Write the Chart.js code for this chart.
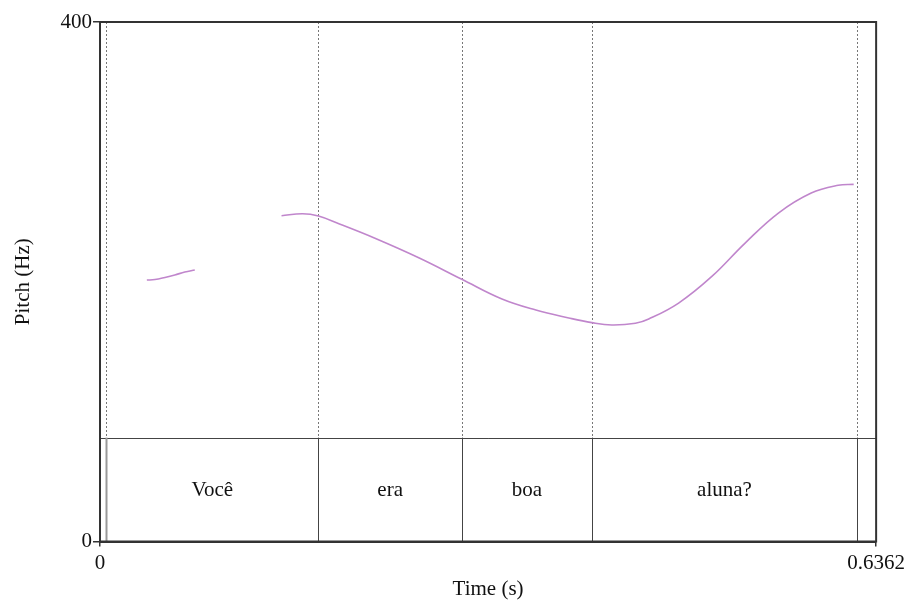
<!DOCTYPE html>
<html>
<head>
<meta charset="utf-8">
<script src="https://cdn.jsdelivr.net/npm/chart.js@4.4.0/dist/chart.umd.min.js"></script>
<style>
  html, body { margin: 0; padding: 0; background: #fff; }
  #wrap { width: 909px; height: 600px; position: relative; }
</style>
</head>
<body>
<div id="wrap"><canvas id="c" width="909" height="600"></canvas></div>
<script>
// ---- Data ----
const timeMin = 0;
const timeMax = 0.6362;
const pitchMin = 0;
const pitchMax = 400;
const xTickValues = [0, 0.6362];
const xTickLabels = ['0', '0.6362'];
const yTickValues = [0, 400];
const yTickLabels = ['0', '400'];

// pitch contour, first voiced stretch
const seg1Times = [0.0384, 0.0450, 0.0532, 0.0613, 0.0695, 0.0777];
const seg1Hz    = [201.3, 201.7, 203.3, 205.2, 207.5, 209.0];
// pitch contour, second voiced stretch
const seg2Times = [0.1488, 0.1660, 0.1791, 0.1963, 0.2249, 0.2617, 0.2966, 0.3295, 0.3573, 0.3843, 0.4031, 0.4195, 0.4389, 0.4498, 0.4743, 0.5013, 0.5288, 0.5561, 0.5830, 0.6051, 0.6178];
const seg2Hz    = [250.8, 252.4, 250.6, 244.5, 233.7, 218.3, 201.9, 186.7, 178.2, 172.1, 168.5, 166.7, 168.0, 171.3, 183.6, 203.9, 229.8, 252.9, 268.3, 274.3, 275.0];

// text grid tier
const tierBoundaries = [0.0049, 0.1791, 0.2966, 0.4034, 0.6204];
const tierIntervalStarts = [0.0049, 0.1791, 0.2966, 0.4034];
const tierIntervalEnds   = [0.1791, 0.2966, 0.4034, 0.6204];
const tierLabels = ['Você', 'era', 'boa', 'aluna?'];

const FONT = 'Liberation Serif';
const TIER_FRACTION = 0.2;

function toPoints(xs, ys) { return xs.map((x, i) => ({ x: x, y: ys[i] })); }

const textGridPlugin = {
  id: 'textGrid',
  beforeDatasetsDraw(chart) {
    const ctx = chart.ctx;
    const a = chart.chartArea;
    const xs = chart.scales.x;
    const tierTop = a.bottom - (a.bottom - a.top) * TIER_FRACTION;
    ctx.save();
    // dotted boundaries in pitch area
    ctx.strokeStyle = '#777';
    ctx.lineWidth = 1;
    ctx.setLineDash([2, 2]);
    tierBoundaries.forEach(t => {
      const px = Math.round(xs.getPixelForValue(t)) + 0.5;
      ctx.beginPath();
      ctx.moveTo(px, a.top);
      ctx.lineTo(px, tierTop);
      ctx.stroke();
    });
    ctx.setLineDash([]);
    // tier top line
    ctx.strokeStyle = '#444';
    ctx.beginPath();
    ctx.moveTo(a.left, Math.round(tierTop) + 0.5);
    ctx.lineTo(a.right, Math.round(tierTop) + 0.5);
    ctx.stroke();
    // solid boundaries in tier
    tierBoundaries.forEach((t, i) => {
      const px = Math.round(xs.getPixelForValue(t)) + 0.5;
      ctx.strokeStyle = i === 0 ? '#999' : '#444';
      ctx.lineWidth = i === 0 ? 2 : 1;
      ctx.beginPath();
      ctx.moveTo(px, tierTop);
      ctx.lineTo(px, a.bottom);
      ctx.stroke();
    });
    // labels
    ctx.fillStyle = '#111';
    ctx.font = '21px "' + FONT + '"';
    ctx.textAlign = 'center';
    ctx.textBaseline = 'middle';
    tierLabels.forEach((lab, i) => {
      const cx = (xs.getPixelForValue(tierIntervalStarts[i]) + xs.getPixelForValue(tierIntervalEnds[i])) / 2;
      ctx.fillText(lab, cx, (tierTop + a.bottom) / 2 + 1);
    });
    ctx.restore();
  },
  afterDraw(chart) {
    const ctx = chart.ctx;
    const a = chart.chartArea;
    ctx.save();
    ctx.strokeStyle = '#333';
    ctx.lineWidth = 2;
    ctx.strokeRect(a.left, a.top, a.right - a.left, a.bottom - a.top);
    ctx.restore();
  }
};

const lineStyle = {
  showLine: true,
  borderColor: 'rgb(192,134,204)',
  borderWidth: 1.6,
  pointRadius: 0,
  fill: false,
  tension: 0.4
};

new Chart(document.getElementById('c'), {
  type: 'scatter',
  data: {
    datasets: [
      Object.assign({ label: 'Pitch 1', data: toPoints(seg1Times, seg1Hz) }, lineStyle),
      Object.assign({ label: 'Pitch 2', data: toPoints(seg2Times, seg2Hz) }, lineStyle)
    ]
  },
  options: {
    responsive: false,
    animation: false,
    devicePixelRatio: 1,
    layout: { padding: { top: 22, right: 31, left: 0, bottom: 0 } },
    plugins: { legend: { display: false }, tooltip: { enabled: false } },
    scales: {
      x: {
        type: 'linear',
        min: timeMin,
        max: timeMax,
        afterBuildTicks: s => { s.ticks = xTickValues.map(v => ({ value: v })); },
        afterFit: s => { s.height = 58.5; },
        ticks: {
          autoSkip: false,
          maxRotation: 0,
          padding: 4,
          color: '#111',
          font: { family: FONT, size: 21 },
          callback: (v) => xTickLabels[xTickValues.indexOf(v)]
        },
        grid: { display: true, drawOnChartArea: false, drawTicks: true, tickLength: 5, color: '#333', lineWidth: 1.5 },
        border: { display: true, color: '#333', width: 2 },
        title: { display: true, text: 'Time (s)', color: '#111', font: { family: FONT, size: 21, lineHeight: 1 }, padding: { top: 0, bottom: 0 } }
      },
      y: {
        type: 'linear',
        min: pitchMin,
        max: pitchMax,
        afterBuildTicks: s => { s.ticks = yTickValues.map(v => ({ value: v })); },
        afterFit: s => { s.width = 100; },
        ticks: {
          padding: 1,
          color: '#111',
          font: { family: FONT, size: 21 },
          callback: (v) => yTickLabels[yTickValues.indexOf(v)]
        },
        grid: { display: true, drawOnChartArea: false, drawTicks: true, tickLength: 7, color: '#333', lineWidth: 1.5 },
        border: { display: true, color: '#333', width: 2 },
        title: { display: true, text: 'Pitch (Hz)', color: '#111', font: { family: FONT, size: 21, lineHeight: 1 }, padding: { top: 13, bottom: 0 } }
      }
    }
  },
  plugins: [textGridPlugin]
});
</script>
</body>
</html>
